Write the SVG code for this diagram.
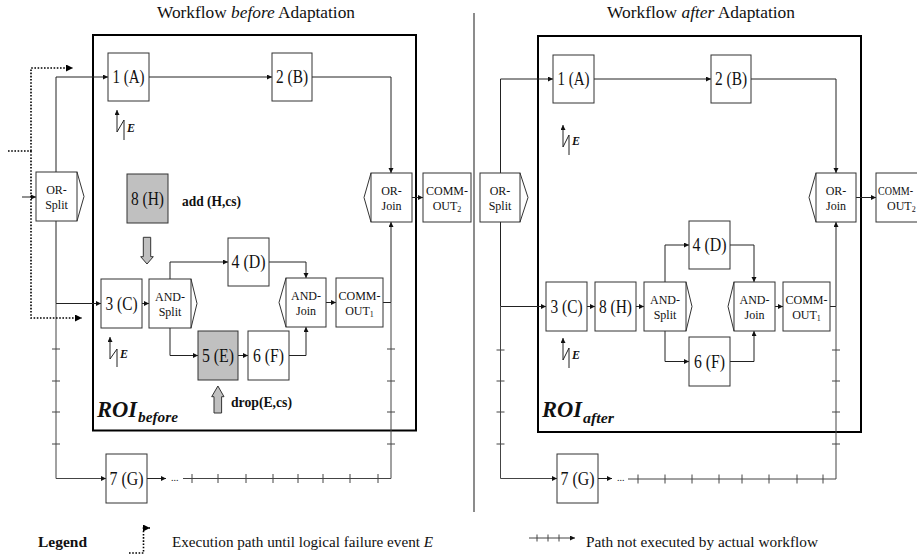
<svg xmlns="http://www.w3.org/2000/svg" width="917" height="556" viewBox="0 0 917 556">
<style>
text{font-family:"Liberation Serif","Times New Roman",serif;fill:#111}
.box{fill:#fff;stroke:#333;stroke-width:1}
.gbox{fill:#c0c0c0;stroke:#333;stroke-width:1}
.chev{fill:none;stroke:#333;stroke-width:1}
.lbl{font-size:18px;text-anchor:middle}
.sm{font-size:12px;text-anchor:middle}
.sub{font-size:8px}
.conn{fill:none;stroke:#222;stroke-width:1}
.nx{fill:none;stroke:#444;stroke-width:1}
.dot{fill:none;stroke:#000;stroke-width:1.6;stroke-dasharray:1.6 1.6}
.roi{fill:none;stroke:#000;stroke-width:2}
.bold{font-weight:bold;font-size:14px}
.ev{font-weight:bold;font-style:italic;font-size:12px}
.roit{font-weight:bold;font-style:italic}
.ga{fill:#c0c0c0;stroke:#333;stroke-width:1}
</style>
<defs>
<marker id="a" markerUnits="userSpaceOnUse" markerWidth="6" markerHeight="6" refX="5" refY="2.5" orient="auto"><path d="M0,0 L5,2.5 L0,5 z" fill="#111"/></marker>
<marker id="ad" markerUnits="userSpaceOnUse" markerWidth="8" markerHeight="8" refX="7" refY="3.5" orient="auto"><path d="M0,0 L7,3.5 L0,7 z" fill="#000"/></marker>
</defs>

<!-- titles and frames -->
<text x="157" y="18" font-size="17" textLength="198" lengthAdjust="spacingAndGlyphs">Workflow <tspan font-style="italic">before</tspan> Adaptation</text>
<text x="607" y="18" font-size="17" textLength="188" lengthAdjust="spacingAndGlyphs">Workflow <tspan font-style="italic">after</tspan> Adaptation</text>
<line x1="474" y1="13" x2="474" y2="512" stroke="#666" stroke-width="1.5"/>
<g id="roi-before">
<rect class="roi" x="93" y="35" width="323" height="395.5"/>
<text class="roit" x="97" y="417" font-size="24" textLength="40" lengthAdjust="spacingAndGlyphs">ROI</text>
<text class="roit" x="138" y="422" font-size="15" textLength="40" lengthAdjust="spacingAndGlyphs">before</text>
</g>
<g id="roi-after">
<rect class="roi" x="538" y="36" width="323" height="396"/>
<text class="roit" x="542" y="417" font-size="24" textLength="40" lengthAdjust="spacingAndGlyphs">ROI</text>
<text class="roit" x="583" y="423" font-size="15" textLength="31" lengthAdjust="spacingAndGlyphs">after</text>
</g>

<!-- connectors -->
<g id="connectors">
<!-- left -->
<path class="conn" d="M22,197 H36" marker-end="url(#a)"/>
<path class="conn" d="M56,172 V77 H108" marker-end="url(#a)"/>
<path class="conn" d="M149,77 H272" marker-end="url(#a)"/>
<path class="conn" d="M312,77 H391 V173" marker-end="url(#a)"/>
<path class="conn" d="M412,197.5 H423" marker-end="url(#a)"/>
<path class="conn" d="M56,221 V303.5 H101" marker-end="url(#a)"/>
<path class="nx" d="M56,303.5 V478.5 H106" marker-end="url(#a)"/>
<path class="conn" d="M142,303.5 H149" marker-end="url(#a)"/>
<path class="conn" d="M170,279 V262 H228" marker-end="url(#a)"/>
<path class="conn" d="M269,262 H306 V278" marker-end="url(#a)"/>
<path class="conn" d="M170,328 V355.5 H198" marker-end="url(#a)"/>
<path class="conn" d="M238,355.5 H248" marker-end="url(#a)"/>
<path class="conn" d="M289,355.5 H306 V327" marker-end="url(#a)"/>
<path class="conn" d="M326,302.5 H336" marker-end="url(#a)"/>
<path class="conn" d="M383,302.5 H391 V222" marker-end="url(#a)"/>
<path class="conn" d="M147,478.5 H166" marker-end="url(#a)"/>
<text x="171" y="481" font-size="10">...</text>
<path class="nx" d="M183,478.5 H391 V302.5"/>
<path class="nx" d="M52,349 H60 M52,381 H60 M52,412 H60 M52,444 H60 M387,349 H395 M387,381 H395 M387,412 H395 M387,444 H395 M192,474 V483 M218,474 V483 M246,474 V483 M273,474 V483 M298,474 V483 M323,474 V483 M350,474 V483 M378,474 V483"/>
<!-- execution path (dotted) -->
<path class="dot" d="M8,151 H31"/>
<path class="dot" d="M31,151 V68 H73" marker-end="url(#ad)"/>
<path class="dot" d="M31,151 V318 H82" marker-end="url(#ad)"/>
<!-- right -->
<path class="conn" d="M500.5,173 V79 H553" marker-end="url(#a)"/>
<path class="conn" d="M594,79 H711" marker-end="url(#a)"/>
<path class="conn" d="M751,79 H836 V173" marker-end="url(#a)"/>
<path class="conn" d="M856,197.5 H876" marker-end="url(#a)"/>
<path class="conn" d="M500.5,222 V306.5 H546" marker-end="url(#a)"/>
<path class="nx" d="M500.5,306.5 V478.5 H557" marker-end="url(#a)"/>
<path class="conn" d="M587,306.5 H595" marker-end="url(#a)"/>
<path class="conn" d="M636,306.5 H644" marker-end="url(#a)"/>
<path class="conn" d="M665,282 V245 H689" marker-end="url(#a)"/>
<path class="conn" d="M730,245 H754 V282" marker-end="url(#a)"/>
<path class="conn" d="M665,331 V361.5 H689" marker-end="url(#a)"/>
<path class="conn" d="M730,361.5 H754 V331" marker-end="url(#a)"/>
<path class="conn" d="M775,306.5 H783" marker-end="url(#a)"/>
<path class="conn" d="M830,306.5 H836 V222" marker-end="url(#a)"/>
<path class="conn" d="M598,478.5 H612" marker-end="url(#a)"/>
<text x="617" y="481" font-size="10">...</text>
<path class="nx" d="M628,479 H836 V306.5"/>
<path class="nx" d="M496.5,350 H504.5 M496.5,381 H504.5 M496.5,412 H504.5 M496.5,444 H504.5 M832,350 H840 M832,381 H840 M832,412 H840 M832,444 H840 M638,474.5 V483.5 M665,474.5 V483.5 M692,474.5 V483.5 M719,474.5 V483.5 M742,474.5 V483.5 M769,474.5 V483.5 M797,474.5 V483.5 M823,474.5 V483.5"/>
</g>

<!-- failure events -->
<g id="event-E1-before">
<path class="conn" d="M124,140 V120 L117,132 V110" marker-end="url(#a)"/>
<text class="ev" x="127" y="132">E</text>
</g>
<g id="event-E2-before">
<path class="conn" d="M117,367 V349 L110,359 V337" marker-end="url(#a)"/>
<text class="ev" x="120" y="358">E</text>
</g>
<g id="event-E1-after">
<path class="conn" d="M569,155 V135 L563,147 V125" marker-end="url(#a)"/>
<text class="ev" x="572" y="145">E</text>
</g>
<g id="event-E2-after">
<path class="conn" d="M569,368 V348 L563,360 V338" marker-end="url(#a)"/>
<text class="ev" x="572" y="359">E</text>
</g>

<!-- adaptation operations -->
<g id="op-add">
<path class="ga" d="M143.3,237.3 H150.7 V256.7 H153.3 L147,264 L140.7,256.7 H143.3 Z"/>
<text class="bold" x="182" y="206" textLength="59" lengthAdjust="spacingAndGlyphs">add (H,cs)</text>
</g>
<g id="op-drop">
<path class="ga" d="M214,413 V396.7 H211.7 L217.9,386 L224,396.7 H221.6 V413 Z"/>
<text class="bold" x="231" y="407" textLength="61" lengthAdjust="spacingAndGlyphs">drop(E,cs)</text>
</g>

<!-- LEFT nodes -->
<g id="or-split-before">
<rect class="box" x="36" y="172" width="41" height="49"/>
<polyline class="chev" points="77,172 84,196.5 77,221"/>
<text class="sm" x="56.5" y="194">OR-</text><text class="sm" x="56.5" y="209">Split</text>
</g>
<g id="n1-before"><rect class="box" x="108" y="53" width="41" height="48"/><text class="lbl" x="128.5" y="83" textLength="32" lengthAdjust="spacingAndGlyphs">1 (A)</text></g>
<g id="n2-before"><rect class="box" x="272" y="53" width="40" height="48"/><text class="lbl" x="292" y="83" textLength="32" lengthAdjust="spacingAndGlyphs">2 (B)</text></g>
<g id="or-join-before">
<rect class="box" x="371" y="173" width="41" height="49"/>
<polyline class="chev" points="371,173 364,197.5 371,222"/>
<text class="sm" x="391.5" y="195">OR-</text><text class="sm" x="391.5" y="210">Join</text>
</g>
<g id="comm-out2-before">
<rect class="box" x="423" y="173" width="48" height="49"/>
<text class="sm" x="447" y="195">COMM-</text><text class="sm" x="447" y="210">OUT<tspan class="sub" dy="2">2</tspan></text>
</g>
<g id="n8-before"><rect class="gbox" x="127" y="174" width="41" height="49"/><text class="lbl" x="147.5" y="204.5" textLength="33" lengthAdjust="spacingAndGlyphs">8 (H)</text></g>
<g id="n3-before"><rect class="box" x="101" y="279" width="41" height="49"/><text class="lbl" x="121.5" y="309.5" textLength="32" lengthAdjust="spacingAndGlyphs">3 (C)</text></g>
<g id="and-split-before">
<rect class="box" x="149" y="279" width="42" height="49"/>
<polyline class="chev" points="191,279 197,303.5 191,328"/>
<text class="sm" x="170" y="301">AND-</text><text class="sm" x="170" y="315.5">Split</text>
</g>
<g id="n4-before"><rect class="box" x="228" y="238" width="41" height="48"/><text class="lbl" x="248.5" y="268" textLength="34" lengthAdjust="spacingAndGlyphs">4 (D)</text></g>
<g id="and-join-before">
<rect class="box" x="286" y="278" width="40" height="49"/>
<polyline class="chev" points="286,278 279,302.5 286,327"/>
<text class="sm" x="306" y="300">AND-</text><text class="sm" x="306" y="314.5">Join</text>
</g>
<g id="comm-out1-before">
<rect class="box" x="336" y="278" width="47" height="49"/>
<text class="sm" x="359.5" y="300">COMM-</text><text class="sm" x="359.5" y="314.5">OUT<tspan class="sub" dy="2">1</tspan></text>
</g>
<g id="n5-before"><rect class="gbox" x="198" y="331" width="40" height="49"/><text class="lbl" x="218" y="361.5" textLength="32" lengthAdjust="spacingAndGlyphs">5 (E)</text></g>
<g id="n6-before"><rect class="box" x="248" y="331" width="41" height="49"/><text class="lbl" x="268.5" y="361.5" textLength="31" lengthAdjust="spacingAndGlyphs">6 (F)</text></g>
<g id="n7-before"><rect class="box" x="106" y="454" width="41" height="49"/><text class="lbl" x="126.5" y="484.5" textLength="34" lengthAdjust="spacingAndGlyphs">7 (G)</text></g>

<!-- RIGHT nodes -->
<g id="or-split-after">
<rect class="box" x="480" y="173" width="40" height="49"/>
<polyline class="chev" points="520,173 528,197.5 520,222"/>
<text class="sm" x="500" y="195">OR-</text><text class="sm" x="500" y="210">Split</text>
</g>
<g id="n1-after"><rect class="box" x="553" y="55" width="41" height="48"/><text class="lbl" x="573.5" y="85" textLength="32" lengthAdjust="spacingAndGlyphs">1 (A)</text></g>
<g id="n2-after"><rect class="box" x="711" y="55" width="40" height="48"/><text class="lbl" x="731" y="85" textLength="32" lengthAdjust="spacingAndGlyphs">2 (B)</text></g>
<g id="or-join-after">
<rect class="box" x="816" y="173" width="40" height="49"/>
<polyline class="chev" points="816,173 809,197.5 816,222"/>
<text class="sm" x="836" y="195">OR-</text><text class="sm" x="836" y="210">Join</text>
</g>
<g id="comm-out2-after">
<rect class="box" x="876" y="173" width="48" height="49"/>
<text x="878" y="195" font-size="12" textLength="35" lengthAdjust="spacingAndGlyphs">COMM-</text><text x="887" y="210" font-size="12">OUT<tspan class="sub" dy="2">2</tspan></text>
</g>
<g id="n3-after"><rect class="box" x="546" y="282" width="41" height="49"/><text class="lbl" x="566.5" y="312.5" textLength="32" lengthAdjust="spacingAndGlyphs">3 (C)</text></g>
<g id="n8-after"><rect class="box" x="595" y="282" width="41" height="49"/><text class="lbl" x="615.5" y="312.5" textLength="33" lengthAdjust="spacingAndGlyphs">8 (H)</text></g>
<g id="and-split-after">
<rect class="box" x="644" y="282" width="42" height="49"/>
<polyline class="chev" points="686,282 692,306.5 686,331"/>
<text class="sm" x="665" y="304">AND-</text><text class="sm" x="665" y="318.5">Split</text>
</g>
<g id="n4-after"><rect class="box" x="689" y="221" width="41" height="48"/><text class="lbl" x="709.5" y="251" textLength="34" lengthAdjust="spacingAndGlyphs">4 (D)</text></g>
<g id="and-join-after">
<rect class="box" x="734" y="282" width="41" height="49"/>
<polyline class="chev" points="734,282 728,306.5 734,331"/>
<text class="sm" x="754.5" y="304">AND-</text><text class="sm" x="754.5" y="318.5">Join</text>
</g>
<g id="comm-out1-after">
<rect class="box" x="783" y="282" width="47" height="49"/>
<text class="sm" x="806.5" y="304">COMM-</text><text class="sm" x="806.5" y="318.5">OUT<tspan class="sub" dy="2">1</tspan></text>
</g>
<g id="n6-after"><rect class="box" x="689" y="337" width="41" height="49"/><text class="lbl" x="709.5" y="367.5" textLength="31" lengthAdjust="spacingAndGlyphs">6 (F)</text></g>
<g id="n7-after"><rect class="box" x="557" y="454" width="41" height="49"/><text class="lbl" x="577.5" y="484.5" textLength="34" lengthAdjust="spacingAndGlyphs">7 (G)</text></g>

<!-- legend -->
<g id="legend">
<text x="38" y="547" font-size="15" font-weight="bold" textLength="49" lengthAdjust="spacingAndGlyphs">Legend</text>
<path class="dot" d="M129,553 H143.5 V528 H150" marker-end="url(#ad)"/>
<text x="172" y="547" font-size="15" textLength="261" lengthAdjust="spacingAndGlyphs">Execution path until logical failure event <tspan font-style="italic">E</tspan></text>
<path class="nx" d="M529,538 H575" marker-end="url(#a)"/>
<path class="nx" d="M537,534.5 V541.5 M548,534.5 V541.5 M559,534.5 V541.5"/>
<text x="586" y="547" font-size="15" textLength="232" lengthAdjust="spacingAndGlyphs">Path not executed by actual workflow</text>
</g>
</svg>
